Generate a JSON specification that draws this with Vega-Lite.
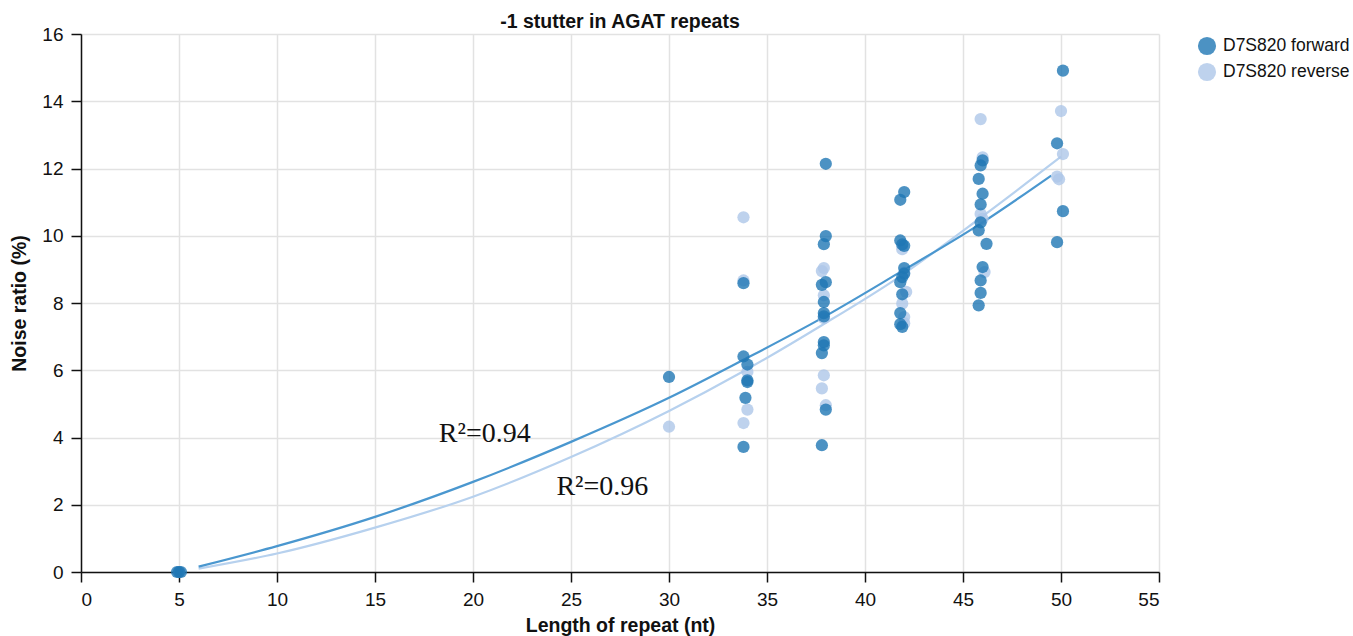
{
  "$schema": "https://vega.github.io/schema/vega-lite/v6.json",
  "autosize": {"type": "none"},
  "width": 1078,
  "height": 538,
  "padding": {"left": 81, "top": 34, "right": 194, "bottom": 64},
  "background": "white",
  "title": {"text": "-1 stutter in AGAT repeats", "fontSize": 19.5, "font": "Liberation Sans", "fontWeight": "bold", "color": "#111", "anchor": "middle", "offset": -7},
  "config": {
    "view": {"stroke": null},
    "axis": {
      "labelFont": "Liberation Sans", "labelFontSize": 19, "labelColor": "#111",
      "titleFont": "Liberation Sans", "titleFontSize": 19.5, "titleFontWeight": "bold", "titleColor": "#111",
      "domainColor": "#111", "domainWidth": 1.5, "tickColor": "#111", "tickWidth": 1.5, "tickSize": 10,
      "gridColor": "#e2e2e2", "gridWidth": 1.5
    }
  },
  "resolve": {"scale": {"color": "independent"}, "legend": {"color": "independent"}},
  "datasets": {
    "pts": [
      {"len": 5.0, "noise": 0, "strand": "D7S820 reverse"},
      {"len": 30.0, "noise": 4.32, "strand": "D7S820 reverse"},
      {"len": 33.8, "noise": 10.55, "strand": "D7S820 reverse"},
      {"len": 33.8, "noise": 8.67, "strand": "D7S820 reverse"},
      {"len": 34.0, "noise": 5.95, "strand": "D7S820 reverse"},
      {"len": 34.0, "noise": 4.83, "strand": "D7S820 reverse"},
      {"len": 33.8, "noise": 4.43, "strand": "D7S820 reverse"},
      {"len": 37.9, "noise": 9.04, "strand": "D7S820 reverse"},
      {"len": 37.8, "noise": 8.95, "strand": "D7S820 reverse"},
      {"len": 37.9, "noise": 8.23, "strand": "D7S820 reverse"},
      {"len": 37.9, "noise": 7.55, "strand": "D7S820 reverse"},
      {"len": 37.9, "noise": 5.85, "strand": "D7S820 reverse"},
      {"len": 37.8, "noise": 5.46, "strand": "D7S820 reverse"},
      {"len": 38.0, "noise": 4.96, "strand": "D7S820 reverse"},
      {"len": 41.9, "noise": 9.6, "strand": "D7S820 reverse"},
      {"len": 42.0, "noise": 8.9, "strand": "D7S820 reverse"},
      {"len": 42.1, "noise": 8.33, "strand": "D7S820 reverse"},
      {"len": 41.9, "noise": 7.98, "strand": "D7S820 reverse"},
      {"len": 42.0, "noise": 7.58, "strand": "D7S820 reverse"},
      {"len": 42.0, "noise": 7.4, "strand": "D7S820 reverse"},
      {"len": 45.9, "noise": 13.47, "strand": "D7S820 reverse"},
      {"len": 46.0, "noise": 12.33, "strand": "D7S820 reverse"},
      {"len": 45.9, "noise": 10.65, "strand": "D7S820 reverse"},
      {"len": 46.0, "noise": 10.5, "strand": "D7S820 reverse"},
      {"len": 46.1, "noise": 8.92, "strand": "D7S820 reverse"},
      {"len": 50.0, "noise": 13.71, "strand": "D7S820 reverse"},
      {"len": 50.1, "noise": 12.43, "strand": "D7S820 reverse"},
      {"len": 49.8, "noise": 11.76, "strand": "D7S820 reverse"},
      {"len": 49.9, "noise": 11.68, "strand": "D7S820 reverse"},
      {"len": 4.9, "noise": 0, "strand": "D7S820 forward"},
      {"len": 5.0, "noise": 0, "strand": "D7S820 forward"},
      {"len": 5.1, "noise": 0, "strand": "D7S820 forward"},
      {"len": 30.0, "noise": 5.8, "strand": "D7S820 forward"},
      {"len": 33.8, "noise": 8.59, "strand": "D7S820 forward"},
      {"len": 33.8, "noise": 6.41, "strand": "D7S820 forward"},
      {"len": 34.0, "noise": 6.17, "strand": "D7S820 forward"},
      {"len": 34.0, "noise": 5.7, "strand": "D7S820 forward"},
      {"len": 34.0, "noise": 5.65, "strand": "D7S820 forward"},
      {"len": 33.9, "noise": 5.18, "strand": "D7S820 forward"},
      {"len": 33.8, "noise": 3.72, "strand": "D7S820 forward"},
      {"len": 38.0, "noise": 12.14, "strand": "D7S820 forward"},
      {"len": 38.0, "noise": 9.99, "strand": "D7S820 forward"},
      {"len": 37.9, "noise": 9.75, "strand": "D7S820 forward"},
      {"len": 38.0, "noise": 8.62, "strand": "D7S820 forward"},
      {"len": 37.8, "noise": 8.54, "strand": "D7S820 forward"},
      {"len": 37.9, "noise": 8.03, "strand": "D7S820 forward"},
      {"len": 37.9, "noise": 7.7, "strand": "D7S820 forward"},
      {"len": 37.9, "noise": 7.6, "strand": "D7S820 forward"},
      {"len": 37.9, "noise": 6.84, "strand": "D7S820 forward"},
      {"len": 37.9, "noise": 6.74, "strand": "D7S820 forward"},
      {"len": 37.8, "noise": 6.51, "strand": "D7S820 forward"},
      {"len": 38.0, "noise": 4.83, "strand": "D7S820 forward"},
      {"len": 37.8, "noise": 3.77, "strand": "D7S820 forward"},
      {"len": 42.0, "noise": 11.3, "strand": "D7S820 forward"},
      {"len": 41.8, "noise": 11.07, "strand": "D7S820 forward"},
      {"len": 41.8, "noise": 9.86, "strand": "D7S820 forward"},
      {"len": 41.9, "noise": 9.74, "strand": "D7S820 forward"},
      {"len": 42.0, "noise": 9.7, "strand": "D7S820 forward"},
      {"len": 42.0, "noise": 9.04, "strand": "D7S820 forward"},
      {"len": 42.0, "noise": 8.87, "strand": "D7S820 forward"},
      {"len": 41.9, "noise": 8.77, "strand": "D7S820 forward"},
      {"len": 41.8, "noise": 8.62, "strand": "D7S820 forward"},
      {"len": 41.9, "noise": 8.26, "strand": "D7S820 forward"},
      {"len": 41.8, "noise": 7.7, "strand": "D7S820 forward"},
      {"len": 41.8, "noise": 7.37, "strand": "D7S820 forward"},
      {"len": 41.9, "noise": 7.29, "strand": "D7S820 forward"},
      {"len": 46.0, "noise": 12.24, "strand": "D7S820 forward"},
      {"len": 45.9, "noise": 12.09, "strand": "D7S820 forward"},
      {"len": 45.8, "noise": 11.69, "strand": "D7S820 forward"},
      {"len": 46.0, "noise": 11.25, "strand": "D7S820 forward"},
      {"len": 45.9, "noise": 10.93, "strand": "D7S820 forward"},
      {"len": 45.9, "noise": 10.4, "strand": "D7S820 forward"},
      {"len": 45.8, "noise": 10.16, "strand": "D7S820 forward"},
      {"len": 46.2, "noise": 9.76, "strand": "D7S820 forward"},
      {"len": 46.0, "noise": 9.07, "strand": "D7S820 forward"},
      {"len": 45.9, "noise": 8.67, "strand": "D7S820 forward"},
      {"len": 45.9, "noise": 8.3, "strand": "D7S820 forward"},
      {"len": 45.8, "noise": 7.93, "strand": "D7S820 forward"},
      {"len": 50.1, "noise": 14.91, "strand": "D7S820 forward"},
      {"len": 49.8, "noise": 12.75, "strand": "D7S820 forward"},
      {"len": 50.1, "noise": 10.73, "strand": "D7S820 forward"},
      {"len": 49.8, "noise": 9.81, "strand": "D7S820 forward"}
    ],
    "fits": [
      {"len": 6, "noise": 0.1, "strand": "D7S820 reverse"},
      {"len": 10, "noise": 0.55, "strand": "D7S820 reverse"},
      {"len": 15, "noise": 1.32, "strand": "D7S820 reverse"},
      {"len": 20, "noise": 2.24, "strand": "D7S820 reverse"},
      {"len": 25, "noise": 3.42, "strand": "D7S820 reverse"},
      {"len": 30, "noise": 4.79, "strand": "D7S820 reverse"},
      {"len": 33.8, "noise": 5.97, "strand": "D7S820 reverse"},
      {"len": 37.8, "noise": 7.34, "strand": "D7S820 reverse"},
      {"len": 41.6, "noise": 8.72, "strand": "D7S820 reverse"},
      {"len": 46, "noise": 10.58, "strand": "D7S820 reverse"},
      {"len": 50, "noise": 12.35, "strand": "D7S820 reverse"},
      {"len": 6, "noise": 0.16, "strand": "D7S820 forward"},
      {"len": 10, "noise": 0.77, "strand": "D7S820 forward"},
      {"len": 15, "noise": 1.64, "strand": "D7S820 forward"},
      {"len": 20, "noise": 2.68, "strand": "D7S820 forward"},
      {"len": 25, "noise": 3.87, "strand": "D7S820 forward"},
      {"len": 30, "noise": 5.18, "strand": "D7S820 forward"},
      {"len": 33.8, "noise": 6.31, "strand": "D7S820 forward"},
      {"len": 37.8, "noise": 7.55, "strand": "D7S820 forward"},
      {"len": 41.6, "noise": 8.85, "strand": "D7S820 forward"},
      {"len": 46, "noise": 10.4, "strand": "D7S820 forward"},
      {"len": 49.5, "noise": 11.79, "strand": "D7S820 forward"}
    ],
    "labels": [
      {"len": 20.6, "noise": 4.1, "txt": "R²=0.94"},
      {"len": 26.6, "noise": 2.52, "txt": "R²=0.96"}
    ]
  },
  "layer": [
    {
      "data": {"name": "fits"},
      "mark": {"type": "line", "strokeWidth": 2.2, "interpolate": "monotone"},
      "encoding": {
        "x": {"field": "len", "type": "quantitative", "scale": {"domain": [0, 55], "nice": false}, "axis": {"values": [0,5,10,15,20,25,30,35,40,45,50,55], "title": "Length of repeat (nt)", "labelPadding": 8, "titlePadding": 7}},
        "y": {"field": "noise", "type": "quantitative", "scale": {"domain": [0, 16], "nice": false}, "axis": {"values": [0,2,4,6,8,10,12,14,16], "title": "Noise ratio (%)", "labelPadding": 8, "titlePadding": 12}},
        "color": {"field": "strand", "type": "nominal", "scale": {"domain": ["D7S820 forward", "D7S820 reverse"], "range": ["#4a97cf", "#b7d1ee"]}, "legend": null}
      }
    },
    {
      "data": {"name": "pts"},
      "mark": {"type": "circle", "size": 150, "opacity": 0.8},
      "encoding": {
        "x": {"field": "len", "type": "quantitative"},
        "y": {"field": "noise", "type": "quantitative"},
        "color": {"field": "strand", "type": "nominal", "scale": {"domain": ["D7S820 forward", "D7S820 reverse"], "range": ["#1f77b4", "#aec7e8"]},
          "legend": {"title": null, "orient": "none", "legendX": 1116, "legendY": 2, "symbolSize": 330, "symbolType": "circle", "symbolOpacity": 0.8, "labelFont": "Liberation Sans", "labelFontSize": 17.5, "labelColor": "#111", "rowPadding": 6, "labelOffset": 6}}
      }
    },
    {
      "data": {"name": "labels"},
      "mark": {"type": "text", "font": "Liberation Serif", "fontSize": 28, "color": "#111", "align": "center", "baseline": "middle"},
      "encoding": {
        "x": {"field": "len", "type": "quantitative"},
        "y": {"field": "noise", "type": "quantitative"},
        "text": {"field": "txt"}
      }
    }
  ]
}
